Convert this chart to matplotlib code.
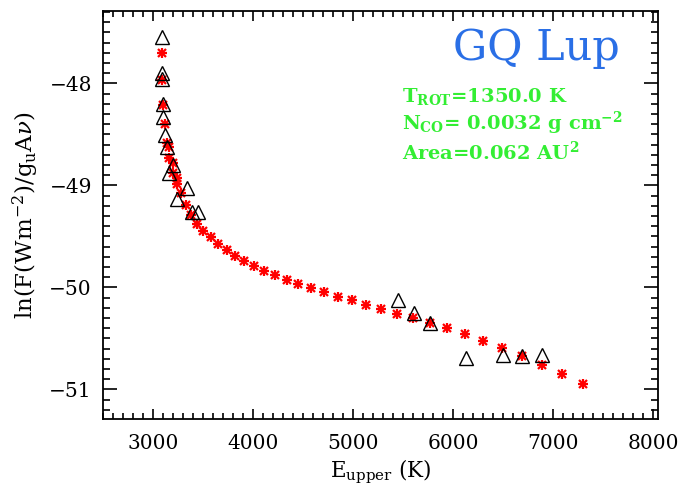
import numpy as np
import matplotlib
matplotlib.use("Agg")
import matplotlib.pyplot as plt
from matplotlib.ticker import MultipleLocator

plt.rcParams['font.family'] = 'DejaVu Serif'
plt.rcParams['mathtext.fontset'] = 'dejavuserif'

# observed CO lines (open triangles)
e_obs = [3087, 3093, 3093, 3103, 3103, 3120, 3143, 3203, 3163, 3337,
         3243, 3387, 3453, 5447, 5607, 5773, 6127, 6500, 6693, 6893]
lnf_obs = [-47.54, -47.90, -47.96, -48.20, -48.33, -48.51, -48.62, -48.80,
           -48.88, -49.03, -49.13, -49.26, -49.26, -50.12, -50.25, -50.35,
           -50.69, -50.66, -50.67, -50.66]

# slab model fit (red asterisks)
e_mod = [3087, 3093, 3103, 3120, 3137, 3160, 3163, 3195, 3195, 3237,
         3237, 3277, 3327, 3380, 3443, 3503, 3578, 3653, 3737, 3822,
         3912, 4010, 4113, 4223, 4337, 4453, 4577, 4710, 4845, 4987,
         5132, 5282, 5442, 5603, 5772, 5942, 6118, 6303, 6493, 6687,
         6887, 7090, 7300]
lnf_mod = [-47.706, -47.968, -48.213, -48.399, -48.582, -48.622, -48.735,
           -48.784, -48.876, -48.924, -48.987, -49.078, -49.193, -49.286,
           -49.379, -49.443, -49.507, -49.575, -49.631, -49.688, -49.740,
           -49.791, -49.837, -49.882, -49.928, -49.968, -50.007, -50.048,
           -50.090, -50.127, -50.171, -50.211, -50.257, -50.298, -50.345,
           -50.402, -50.461, -50.524, -50.595, -50.672, -50.757, -50.847,
           -50.945]

fig = plt.figure(figsize=(6.78, 4.91), dpi=100)
ax = fig.add_axes([103/678, 72/491, 555/678, 408/491])

# IDL-style asterisk: a plus and a cross on top of each other
ax.plot(e_mod, lnf_mod, ls='none', marker='+', ms=6.5, mew=1.6, color='red')
ax.plot(e_mod, lnf_mod, ls='none', marker='x', ms=5.5, mew=1.6, color='red')
ax.plot(e_obs, lnf_obs, ls='none', marker='^', ms=10, mfc='none',
        mec='black', mew=1.0)

ax.set_xlim(2500, 8050)
ax.set_ylim(-51.29, -47.29)
ax.xaxis.set_major_locator(MultipleLocator(1000))
ax.xaxis.set_minor_locator(MultipleLocator(100))
ax.yaxis.set_major_locator(MultipleLocator(1))
ax.yaxis.set_minor_locator(MultipleLocator(0.1))
ax.tick_params(which='both', direction='in', top=True, right=True,
               labelsize=14.5, width=1.2, colors='black')
ax.tick_params(axis='x', which='major', length=7, pad=11)
ax.tick_params(axis='x', which='minor', length=4)
ax.tick_params(axis='y', which='major', length=10, pad=8)
ax.tick_params(axis='y', which='minor', length=5)
for s in ax.spines.values():
    s.set_linewidth(1.3)

ax.set_xlabel(r'E$_{\mathrm{upper}}$ (K)', fontsize=15.5, labelpad=3)
ax.set_ylabel(r'ln(F(Wm$^{-2}$)/g$_{\mathrm{u}}$A$\nu$)', fontsize=16.5,
              labelpad=6)

ax.text(0.78, 0.91, 'GQ Lup', transform=ax.transAxes, fontsize=31,
        color='#2a6fe6', ha='center', va='center')
green = '#33ee33'
ax.text(0.538, 0.79, r'T$_{\mathbf{ROT}}$=1350.0 K', transform=ax.transAxes,
        fontsize=14, color=green, fontweight='bold', va='center')
ax.text(0.538, 0.725, r'N$_{\mathbf{CO}}$= 0.0032 g cm$^{\mathbf{-2}}$',
        transform=ax.transAxes, fontsize=14, color=green, fontweight='bold',
        va='center')
ax.text(0.538, 0.655, r'Area=0.062 AU$^{\mathbf{2}}$', transform=ax.transAxes,
        fontsize=14, color=green, fontweight='bold', va='center')

fig.savefig('out.png', dpi=100)
